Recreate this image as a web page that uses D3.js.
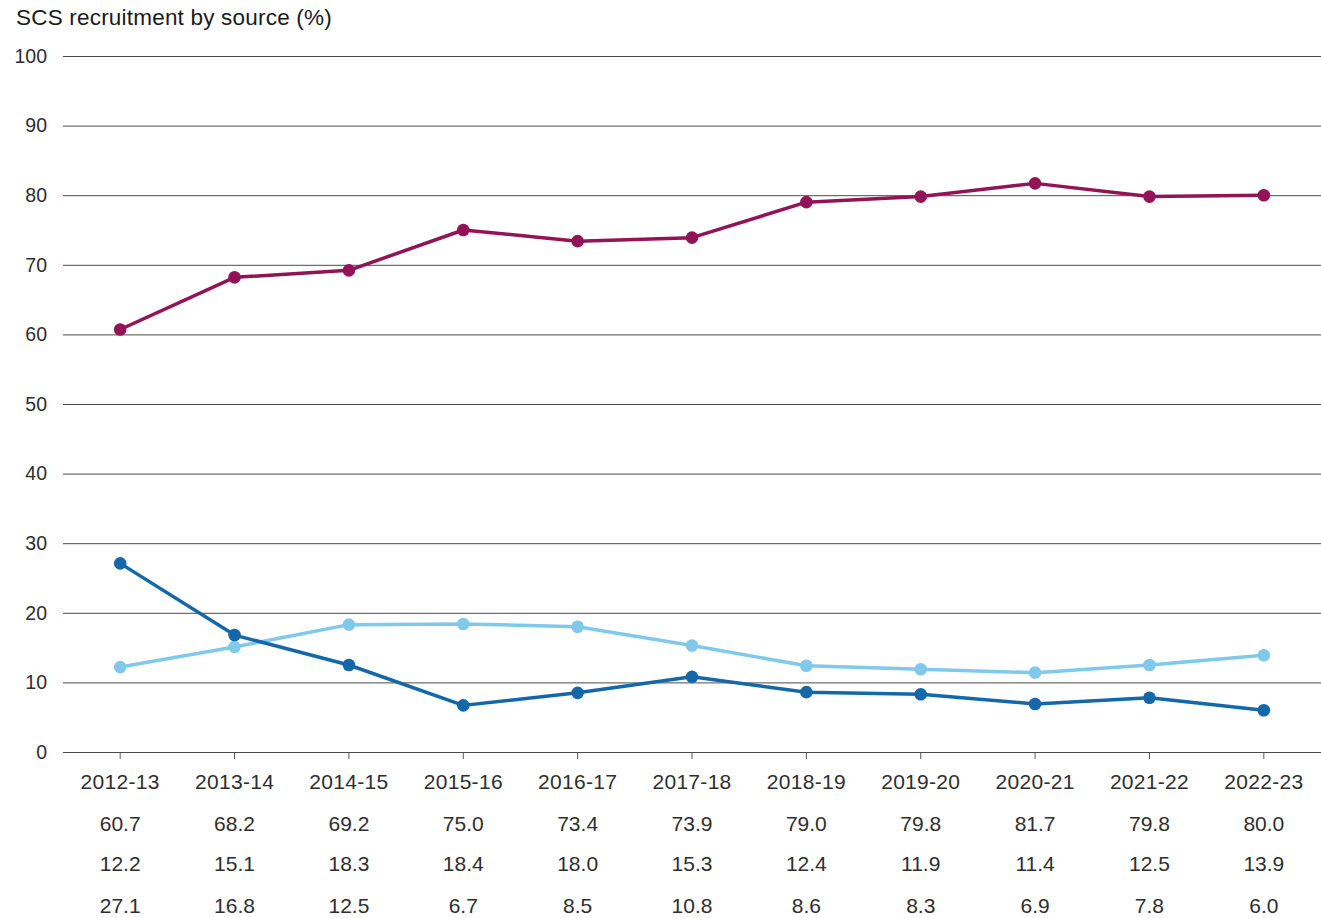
<!DOCTYPE html>
<html>
<head>
<meta charset="utf-8">
<script src="https://cdn.jsdelivr.net/npm/d3@7"></script>
<style>
  html, body { margin: 0; padding: 0; background: #fff; }
  svg { display: block; font-family: "Liberation Sans", Arial, sans-serif; }
</style>
</head>
<body>
<svg id="chart" width="1321" height="918"></svg>
<script>
// Financial years shown on the x axis
const years = ["2012-13","2013-14","2014-15","2015-16","2016-17","2017-18","2018-19","2019-20","2020-21","2021-22","2022-23"];

// Share of SCS recruitment by source (%)
const seriesA = [60.7, 68.2, 69.2, 75.0, 73.4, 73.9, 79.0, 79.8, 81.7, 79.8, 80.0];
const seriesB = [12.2, 15.1, 18.3, 18.4, 18.0, 15.3, 12.4, 11.9, 11.4, 12.5, 13.9];
const seriesC = [27.1, 16.8, 12.5, 6.7, 8.5, 10.8, 8.6, 8.3, 6.9, 7.8, 6.0];

const yTicks = [0, 10, 20, 30, 40, 50, 60, 70, 80, 90, 100];

const series = [
  { values: seriesA, color: "#921356" },
  { values: seriesB, color: "#80c9ea" },
  { values: seriesC, color: "#1467a9" }
];

const svg = d3.select("#chart");
const plotLeft = 63, plotRight = 1321, plotTop = 56, plotBottom = 752;
const textColor = "#2e2e2e";

const x = d3.scaleBand().domain(years).range([plotLeft, plotRight]);
const cx = d => x(d) + x.bandwidth() / 2;
const y = d3.scaleLinear().domain([0, 100]).range([plotBottom, plotTop]);

// Title
svg.append("text")
  .attr("x", 16).attr("y", 25)
  .attr("font-size", 22.5).attr("letter-spacing", 0.2).attr("fill", "#1a1a1a")
  .text("SCS recruitment by source (%)");

// Horizontal gridlines and y labels
const yAxis = d3.axisLeft(y).tickValues(yTicks).tickSize(-(plotRight - plotLeft)).tickPadding(16);
const gy = svg.append("g").attr("transform", `translate(${plotLeft},0)`).call(yAxis);
gy.select(".domain").remove();
gy.selectAll(".tick line").attr("stroke", "#4a4a4a").attr("stroke-width", 1);
gy.selectAll(".tick text").attr("font-size", 19.5).attr("fill", textColor)
  .attr("font-family", "Liberation Sans, Arial, sans-serif");

// Category ticks below the baseline
const xAxis = d3.axisBottom(x).tickSize(7).tickPadding(15);
const gx = svg.append("g").attr("transform", `translate(0,${plotBottom})`).call(xAxis);
gx.select(".domain").remove();
gx.selectAll(".tick line").attr("stroke", "#555");
gx.selectAll(".tick text").attr("font-size", 21).attr("letter-spacing", 0.3).attr("fill", textColor)
  .attr("font-family", "Liberation Sans, Arial, sans-serif");

// Lines and markers
const line = d3.line().x((d, i) => cx(years[i])).y(d => y(d));
series.forEach(s => {
  svg.append("path")
    .datum(s.values)
    .attr("fill", "none")
    .attr("stroke", s.color)
    .attr("stroke-width", 3.5)
    .attr("stroke-linejoin", "round")
    .attr("d", line);
  svg.append("g").selectAll("circle")
    .data(s.values)
    .join("circle")
    .attr("cx", (d, i) => cx(years[i]))
    .attr("cy", d => y(d))
    .attr("r", 6.3)
    .attr("fill", s.color);
});

// Data table beneath the axis
const rowY = [831, 871, 913];
series.forEach((s, r) => {
  svg.append("g").selectAll("text")
    .data(s.values)
    .join("text")
    .attr("x", (d, i) => cx(years[i]))
    .attr("y", rowY[r])
    .attr("text-anchor", "middle")
    .attr("font-size", 21)
    .attr("fill", textColor)
    .text(d => d.toFixed(1));
});
</script>
</body>
</html>
